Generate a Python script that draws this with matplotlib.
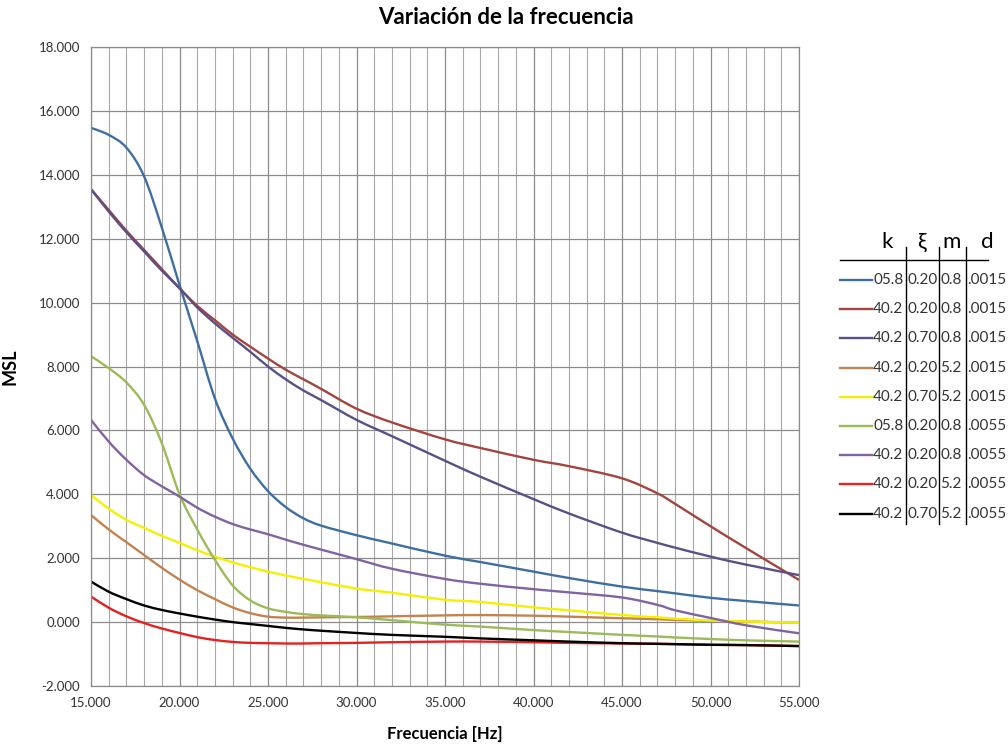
import matplotlib
matplotlib.use("Agg")
import matplotlib.pyplot as plt
from matplotlib.lines import Line2D
from matplotlib.path import Path
from matplotlib.patches import PathPatch
from matplotlib.ticker import MultipleLocator, FuncFormatter

plt.rcParams["font.family"] = ["Lato", "DejaVu Sans"]

# frequency values (Hz) at which the curves were read
freq = [15, 16, 17, 18, 19, 20, 21, 22, 23, 24, 25, 26, 27, 28, 30, 32, 35, 37,
        40, 42, 45, 47, 48, 50, 52, 55]

# series parameters (legend table)
k_vals = ["05.8", "40.2", "40.2", "40.2", "40.2", "05.8", "40.2", "40.2", "40.2"]
xi_vals = ["0.20", "0.20", "0.70", "0.20", "0.70", "0.20", "0.20", "0.20", "0.70"]
m_vals = ["0.8", "0.8", "0.8", "5.2", "5.2", "0.8", "0.8", "5.2", "5.2"]
d_vals = [".0015", ".0015", ".0015", ".0015", ".0015", ".0055", ".0055", ".0055", ".0055"]

msl_1 = [15.47, 15.25, 14.85, 13.95, 12.35, 10.55, 8.8, 7.0, 5.75, 4.8, 4.1, 3.6, 3.25,
         3.02, 2.72, 2.46, 2.08, 1.88, 1.58, 1.38, 1.11, 0.97, 0.9, 0.76, 0.66, 0.52]
msl_2 = [13.55, 12.9, 12.25, 11.65, 11.05, 10.45, 9.9, 9.45, 9.0, 8.62, 8.25, 7.9, 7.6,
         7.3, 6.68, 6.25, 5.72, 5.45, 5.08, 4.88, 4.5, 4.03, 3.7, 3.0, 2.32, 1.32]
msl_3 = [13.55, 12.85, 12.2, 11.6, 11.0, 10.45, 9.85, 9.35, 8.9, 8.46, 8.0, 7.6, 7.25,
         6.95, 6.33, 5.82, 5.05, 4.55, 3.85, 3.4, 2.8, 2.48, 2.33, 2.05, 1.8, 1.47]
msl_4 = [3.35, 2.9, 2.5, 2.1, 1.7, 1.33, 1.0, 0.72, 0.46, 0.28, 0.17, 0.14, 0.14, 0.15,
         0.16, 0.18, 0.21, 0.22, 0.2, 0.17, 0.12, 0.09, 0.07, 0.04, 0.02, -0.02]
msl_5 = [3.98, 3.55, 3.2, 2.95, 2.7, 2.48, 2.25, 2.05, 1.87, 1.72, 1.58, 1.46, 1.35, 1.25,
         1.05, 0.92, 0.7, 0.63, 0.46, 0.37, 0.22, 0.15, 0.11, 0.05, 0.02, -0.02]
msl_6 = [8.32, 7.95, 7.5, 6.8, 5.6, 4.0, 2.9, 1.95, 1.15, 0.68, 0.43, 0.32, 0.25, 0.21,
         0.15, 0.06, -0.08, -0.14, -0.25, -0.31, -0.4, -0.45, -0.48, -0.53, -0.57, -0.61]
msl_7 = [6.33, 5.65, 5.08, 4.6, 4.25, 3.93, 3.58, 3.3, 3.07, 2.9, 2.75, 2.58, 2.42, 2.27,
         1.97, 1.67, 1.35, 1.2, 1.03, 0.93, 0.77, 0.54, 0.37, 0.13, -0.1, -0.35]
msl_8 = [0.8, 0.45, 0.18, -0.03, -0.2, -0.34, -0.47, -0.56, -0.62, -0.65, -0.66, -0.67,
         -0.67, -0.66, -0.65, -0.63, -0.61, -0.61, -0.63, -0.65, -0.67, -0.68, -0.69,
         -0.71, -0.72, -0.75]
msl_9 = [1.27, 0.95, 0.72, 0.52, 0.38, 0.27, 0.17, 0.08, 0.0, -0.06, -0.12, -0.18, -0.23,
         -0.27, -0.34, -0.4, -0.46, -0.51, -0.57, -0.61, -0.66, -0.68, -0.69, -0.71,
         -0.72, -0.75]

series = [msl_1, msl_2, msl_3, msl_4, msl_5, msl_6, msl_7, msl_8, msl_9]
colors = ["#3f6f9f", "#a3453f", "#5a4f86", "#c4834e", "#f4f000",
          "#9bbb59", "#8064a2", "#e52222", "#000000"]


def smooth_path(xs, ys):
    # Excel-style smoothed line: cubic Bezier segments through every point
    verts = [(xs[0], ys[0])]
    codes = [Path.MOVETO]
    n = len(xs)
    for i in range(n - 1):
        x0, y0 = (xs[i - 1], ys[i - 1]) if i > 0 else (xs[i], ys[i])
        x1, y1 = xs[i], ys[i]
        x2, y2 = xs[i + 1], ys[i + 1]
        x3, y3 = (xs[i + 2], ys[i + 2]) if i + 2 < n else (x2, y2)
        verts += [(x1 + (x2 - x0) / 6, y1 + (y2 - y0) / 6),
                  (x2 - (x3 - x1) / 6, y2 - (y3 - y1) / 6),
                  (x2, y2)]
        codes += [Path.CURVE4] * 3
    return Path(verts, codes)


W, H = 1008, 748
fig = plt.figure(figsize=(W / 100, H / 100), dpi=100)
ax = fig.add_axes([91 / W, 1 - 686 / H, (799 - 91) / W, (686 - 47) / H])

for ys, c in zip(series, colors):
    ax.add_patch(PathPatch(smooth_path(freq, ys), fill=False, edgecolor=c, lw=1.7,
                           joinstyle="round", capstyle="butt"))

ax.set_xlim(15, 55)
ax.set_ylim(-2, 18)
ax.xaxis.set_major_locator(MultipleLocator(5))
ax.xaxis.set_minor_locator(MultipleLocator(1))
ax.yaxis.set_major_locator(MultipleLocator(2))
fmt = FuncFormatter(lambda v, pos: f"{v:.3f}")
ax.xaxis.set_major_formatter(fmt)
ax.yaxis.set_major_formatter(fmt)
ax.grid(which="major", color="#8c8c8c", lw=0.9)
ax.grid(which="minor", axis="x", color="#a8a8a8", lw=0.8)
ax.set_axisbelow(True)
for s in ax.spines.values():
    s.set_color("#8c8c8c")
    s.set_linewidth(0.9)
ax.tick_params(which="both", length=0, labelsize=9.5, labelcolor="#333333", pad=8)

ax.set_xlabel("Frecuencia [Hz]", fontsize=12, fontweight="bold", labelpad=12)
ax.set_ylabel("MSL", fontsize=13, fontweight="bold", labelpad=14)
fig.text(506 / W, 1 - 17 / H, "Variación de la frecuencia", ha="center", va="center",
         fontsize=16, fontweight="bold")


def fx(px):
    return px / W


def fy(py):
    return 1 - py / H


# legend drawn as a small table
fig.text(fx(887), fy(242), "k", ha="center", va="center", fontsize=16)
fig.text(fx(921), fy(242), "ξ", ha="center", va="center", fontsize=16)
fig.text(fx(952), fy(242), "m", ha="center", va="center", fontsize=16)
fig.text(fx(987), fy(242), "d", ha="center", va="center", fontsize=16)
fig.add_artist(Line2D([fx(840), fx(988)], [fy(260), fy(260)], color="black", lw=1))
for sx in [906, 939, 966]:
    fig.add_artist(Line2D([fx(sx), fx(sx)], [fy(247), fy(524)], color="black", lw=1))

for i, c in enumerate(colors):
    ry = 280 + i * 29.2
    fig.add_artist(Line2D([fx(840), fx(872)], [fy(ry), fy(ry)], color=c, lw=1.7))
    fig.text(fx(873), fy(ry), k_vals[i], ha="left", va="center", fontsize=11, color="#333333")
    fig.text(fx(907.5), fy(ry), xi_vals[i], ha="left", va="center", fontsize=11, color="#333333")
    fig.text(fx(940.5), fy(ry), m_vals[i], ha="left", va="center", fontsize=11, color="#333333")
    fig.text(fx(967), fy(ry), d_vals[i], ha="left", va="center", fontsize=11, color="#333333")

fig.savefig("out.png", dpi=100, facecolor="white")
